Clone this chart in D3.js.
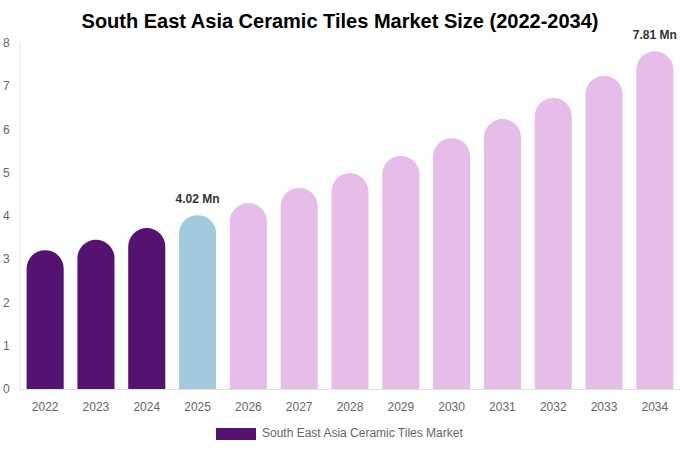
<!DOCTYPE html>
<html><head><meta charset="utf-8">
<script src="https://cdn.jsdelivr.net/npm/d3@7"></script>
<style>body{margin:0;background:#fff;font-family:"Liberation Sans",Arial,sans-serif}</style>
</head><body><div id="chart"></div>
<script>
var years = ["2022","2023","2024","2025","2026","2027","2028","2029","2030","2031","2032","2033","2034"];
var values = [3.21,3.45,3.72,4.02,4.3,4.65,4.99,5.39,5.8,6.24,6.73,7.24,7.81];
var yTicks = [0,1,2,3,4,5,6,7,8];
var labelled = {"2025":"4.02 Mn","2034":"7.81 Mn"};

var W = 680, H = 450;
var svg = d3.select("#chart").append("svg").attr("width", W).attr("height", H);

var x = d3.scaleBand().domain(years).range([20, 680]).paddingInner(0.27).paddingOuter(0.13);
var y = d3.scaleLinear().domain([0, 8]).range([389, 43]);

function color(yr) {
  var v = +yr;
  if (v < 2025) return "#541370";
  if (v === 2025) return "#a3c9dd";
  return "#e6bce8";
}

svg.append("text").attr("x", 340).attr("y", 28).attr("text-anchor", "middle")
  .attr("font-size", 20).attr("font-weight", "bold").attr("fill", "#000")
  .text("South East Asia Ceramic Tiles Market Size (2022-2034)");

// axes lines
svg.append("line").attr("x1", 20).attr("x2", 20).attr("y1", 43).attr("y2", 389).attr("stroke", "#e6e6e6");
svg.append("line").attr("x1", 20).attr("x2", 680).attr("y1", 389.5).attr("y2", 389.5).attr("stroke", "#e0e0e0");

svg.selectAll(".yt").data(yTicks).enter().append("text")
  .attr("x", 3).attr("y", function(d){ return y(d) + 4; })
  .attr("font-size", 12).attr("fill", "#666").text(function(d){ return d; });

var bw = x.bandwidth(), r = bw / 2;
svg.selectAll(".bar").data(years).enter().append("path")
  .attr("fill", function(d){ return color(d); })
  .attr("d", function(d, i) {
    var x0 = x(d), top = y(values[i]), b = y(0);
    return "M" + x0 + "," + b + "V" + (top + r) +
      "A" + r + "," + r + " 0 0 1 " + (x0 + bw) + "," + (top + r) +
      "V" + b + "Z";
  });

svg.selectAll(".xt").data(years).enter().append("text")
  .attr("x", function(d){ return x(d) + bw / 2; }).attr("y", 411)
  .attr("text-anchor", "middle").attr("font-size", 12).attr("fill", "#666")
  .text(function(d){ return d; });

svg.selectAll(".vl").data(years.filter(function(d){ return labelled[d]; })).enter().append("text")
  .attr("x", function(d){ return x(d) + bw / 2; })
  .attr("y", function(d){ return y(values[years.indexOf(d)]) - 12; })
  .attr("text-anchor", "middle").attr("font-size", 12).attr("font-weight", "bold").attr("fill", "#333")
  .text(function(d){ return labelled[d]; });

svg.append("rect").attr("x", 216).attr("y", 428).attr("width", 40).attr("height", 12).attr("fill", "#541370");
svg.append("text").attr("x", 262).attr("y", 437).attr("font-size", 12).attr("fill", "#666")
  .text("South East Asia Ceramic Tiles Market");
</script></body></html>
